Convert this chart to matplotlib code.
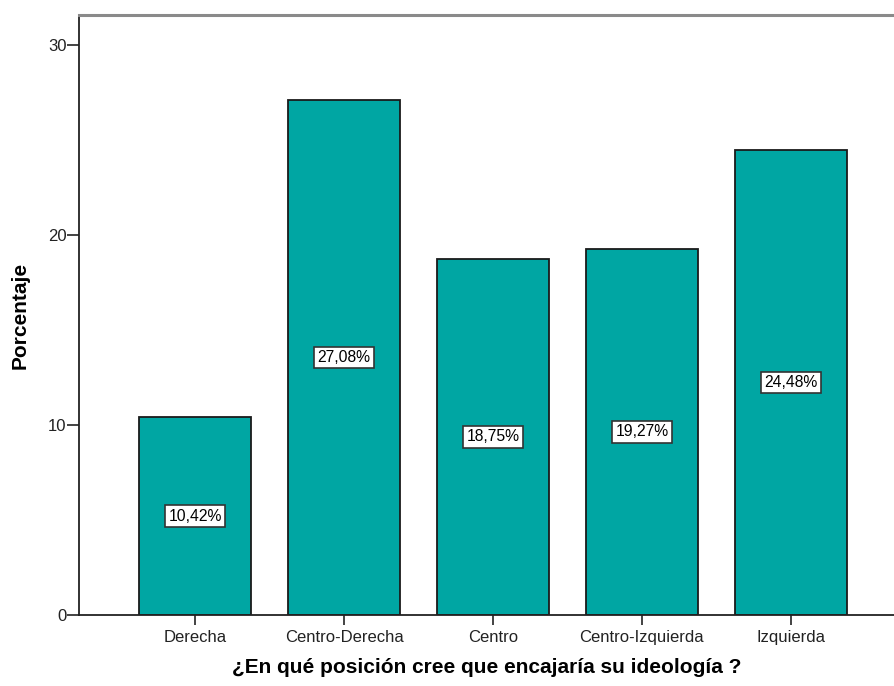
import matplotlib
matplotlib.use("Agg")
import matplotlib.pyplot as plt

categories = ["Derecha", "Centro-Derecha", "Centro", "Centro-Izquierda", "Izquierda"]
values = [10.42, 27.08, 18.75, 19.27, 24.48]
labels = ["10,42%", "27,08%", "18,75%", "19,27%", "24,48%"]
yticks = [0, 10, 20, 30]

plt.rcParams['font.family'] = ['Liberation Sans', 'DejaVu Sans']

fig = plt.figure(figsize=(8.95, 6.86), dpi=100)
ax = fig.add_axes([79/895, 71/686, 1 - 79/895, 600/686])

x = range(len(categories))
ax.bar(x, values, width=0.75, color="#00A6A3", edgecolor="#1a1a1a", linewidth=1.3, zorder=2)
for xi, v, lab in zip(x, values, labels):
    ax.text(xi, v / 2, lab, ha="center", va="center", fontsize=11.3, color="black",
            bbox=dict(boxstyle="square,pad=0.2", facecolor="white", edgecolor="#333333", linewidth=1.2), zorder=3)

ax.set_xlim(-0.78, 4.70)
ax.set_ylim(0, 600/19)
ax.set_yticks(yticks)
ax.set_xticks(list(x))
ax.set_xticklabels(categories)
ax.tick_params(axis="both", direction="out", width=1.2, labelsize=12, colors="#222222")
ax.tick_params(axis="x", length=7.5, pad=3)
ax.tick_params(axis="y", length=9, pad=0)

ax.spines["right"].set_visible(False)
ax.spines["top"].set_color("#8a8a8a")
ax.spines["top"].set_linewidth(2.2)
ax.spines["left"].set_color("#222222")
ax.spines["bottom"].set_color("#222222")
ax.spines["left"].set_linewidth(1.3)
ax.spines["bottom"].set_linewidth(1.3)

ax.set_xlabel("¿En qué posición cree que encajaría su ideología ?", fontsize=15, fontweight="bold", labelpad=10)
ax.set_ylabel("Porcentaje", fontsize=15, fontweight="bold", labelpad=13)

fig.savefig("out.png", dpi=100)
